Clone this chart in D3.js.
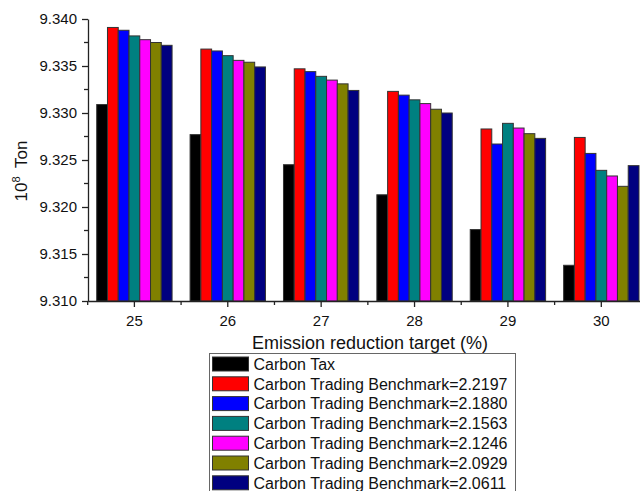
<!DOCTYPE html>
<html><head><meta charset="utf-8">
<script src="https://cdn.jsdelivr.net/npm/d3@7"></script>
<style>body{margin:0;background:#fff}svg{display:block;font-family:"Liberation Sans",Arial,sans-serif}</style>
</head><body><svg id="c" width="640" height="491"></svg>
<script>
const categories = ["25","26","27","28","29","30"];
const seriesNames = ["Carbon Tax","Carbon Trading Benchmark=2.2197","Carbon Trading Benchmark=2.1880","Carbon Trading Benchmark=2.1563","Carbon Trading Benchmark=2.1246","Carbon Trading Benchmark=2.0929","Carbon Trading Benchmark=2.0611"];
const seriesColors = ["#000000","#ff0000","#0000ff","#008080","#ff00ff","#808000","#000080"];
const carbonTax = [9.3309,9.3277,9.3245,9.3213,9.3176,9.3138];
const bench22197 = [9.3391,9.3368,9.3347,9.3323,9.3283,9.3274];
const bench21880 = [9.3388,9.3366,9.3344,9.3319,9.3267,9.3257];
const bench21563 = [9.3382,9.3361,9.3339,9.3314,9.3289,9.3239];
const bench21246 = [9.3378,9.3356,9.3335,9.3310,9.3284,9.3233];
const bench20929 = [9.3375,9.3354,9.3331,9.3304,9.3278,9.3222];
const bench20611 = [9.3372,9.3349,9.3324,9.3300,9.3273,9.3244];
const yTicks = [9.310,9.315,9.320,9.325,9.330,9.335,9.340];
const yMinor = [9.3125,9.3175,9.3225,9.3275,9.3325,9.3375];

const seriesValues = [carbonTax,bench22197,bench21880,bench21563,bench21246,bench20929,bench20611];
const svg = d3.select("#c");
const L = 88, T = 19, B = 301, R = 648;
const x0 = d3.scaleBand().domain(categories).range([L-0.3, R]).paddingInner(0.193).paddingOuter(0.0965);
const x1 = d3.scaleBand().domain(d3.range(seriesNames.length)).range([0, x0.bandwidth()]).padding(0);
const y = d3.scaleLinear().domain([9.310, 9.340]).range([B, T]);

const g = svg.append("g");
categories.forEach((c, ci) => {
  seriesValues.forEach((vals, si) => {
    g.append("rect")
      .attr("x", x0(c) + x1(si))
      .attr("y", y(vals[ci]))
      .attr("width", x1.bandwidth())
      .attr("height", y(9.310) - y(vals[ci]))
      .attr("fill", seriesColors[si])
      .attr("stroke", "#333")
      .attr("stroke-width", 1);
  });
});

// Y axis
const ya = svg.append("g").attr("transform", `translate(${L},0)`)
  .call(d3.axisLeft(y).tickValues(yTicks).tickFormat(d3.format(".3f")).tickSize(6).tickSizeOuter(0));
ya.selectAll("text").attr("font-size", 15).attr("fill", "#111").attr("dx", "-2").style("font-family", "Liberation Sans, Arial, sans-serif");
ya.select(".domain").attr("stroke", "#222").attr("stroke-width", 1.3);
ya.selectAll(".tick line").attr("stroke", "#222").attr("stroke-width", 1.3);
svg.append("g").selectAll("line").data(yMinor).join("line")
  .attr("x1", L-4).attr("x2", L).attr("y1", d => y(d)).attr("y2", d => y(d))
  .attr("stroke", "#222").attr("stroke-width", 1.3);

// X axis
const xa = svg.append("g").attr("transform", `translate(0,${B})`)
  .call(d3.axisBottom(x0).tickSize(6).tickSizeOuter(0));
xa.selectAll("text").attr("font-size", 15).attr("fill", "#111").attr("dy", "1.05em").style("font-family", "Liberation Sans, Arial, sans-serif");
xa.select(".domain").attr("stroke", "#222").attr("stroke-width", 1.3);
xa.selectAll(".tick line").attr("stroke", "#222").attr("stroke-width", 1.3);
const step = x0.step();
svg.append("g").selectAll("line").data(d3.range(categories.length + 1)).join("line")
  .attr("x1", d => L - 0.3 + d*step).attr("x2", d => L - 0.3 + d*step)
  .attr("y1", B).attr("y2", B + 4)
  .attr("stroke", "#222").attr("stroke-width", 1.3);

// Titles
svg.append("text").attr("x", 370).attr("y", 349).attr("text-anchor", "middle")
  .attr("font-size", 18).attr("fill", "#111").text("Emission reduction target (%)");
const yt = svg.append("text").attr("transform", "translate(27,171) rotate(-90)")
  .attr("text-anchor", "middle").attr("font-size", 17).attr("fill", "#111");
yt.append("tspan").text("10");
yt.append("tspan").attr("dy", -7).attr("font-size", 11).text("8");
yt.append("tspan").attr("dy", 7).attr("dx", 4).text(" Ton");

// Legend
const lg = svg.append("g");
lg.append("rect").attr("x", 209.5).attr("y", 353.5).attr("width", 306).attr("height", 150)
  .attr("fill", "#fff").attr("stroke", "#666").attr("stroke-width", 1);
seriesNames.forEach((n, i) => {
  const cy = 364 + i * 19.8;
  lg.append("rect").attr("x", 212.5).attr("y", cy - 7).attr("width", 36).attr("height", 14)
    .attr("fill", seriesColors[i]).attr("stroke", "#333").attr("stroke-width", 1);
  lg.append("text").attr("x", 253.5).attr("y", cy).attr("dy", "0.36em")
    .attr("font-size", 16).attr("fill", "#111").text(n);
});
</script></body></html>
